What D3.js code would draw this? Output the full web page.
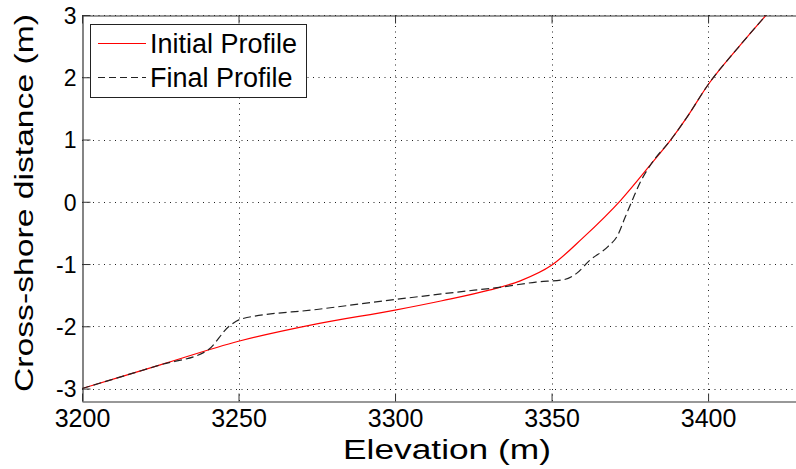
<!DOCTYPE html>
<html>
<head>
<meta charset="utf-8">
<script src="https://cdn.jsdelivr.net/npm/d3@7/dist/d3.min.js"></script>
<style>
  html, body { margin: 0; padding: 0; background: #fff; }
  svg { display: block; font-family: "Liberation Sans", Arial, sans-serif; }
</style>
</head>
<body>
<div id="chart"></div>
<script>
"use strict";

// profiles
var initialX = [3200, 3225, 3250, 3275, 3300, 3315, 3330, 3340, 3350, 3360, 3372, 3382, 3388, 3393, 3400, 3410, 3420];
var initialY = [-3.0, -2.62, -2.24, -1.96, -1.74, -1.59, -1.42, -1.27, -1.02, -0.58, 0.02, 0.62, 0.99, 1.34, 1.88, 2.5, 3.08];

var finalX = [3200, 3225, 3240, 3247, 3251, 3275, 3300, 3320, 3334, 3345, 3354, 3358, 3362, 3368, 3371, 3373.5, 3376, 3378.5, 3382, 3388, 3393, 3400, 3410, 3420];
var finalY = [-3.0, -2.62, -2.39, -2.0, -1.88, -1.73, -1.57, -1.45, -1.37, -1.29, -1.25, -1.15, -0.95, -0.72, -0.55, -0.25, 0.05, 0.33, 0.62, 0.99, 1.34, 1.88, 2.5, 3.08];

var xTicks = [3200, 3250, 3300, 3350, 3400];
var yTicks = [-3, -2, -1, 0, 1, 2, 3];

var seriesNames = ["Initial Profile", "Final Profile"];

var width = 796, height = 469;
var plotLeft = 82, plotTop = 15, plotRight = 802, plotBottom = 401;

var svg = d3.select("#chart").append("svg")
    .attr("width", width)
    .attr("height", height);

var x = d3.scaleLinear().domain([3200, 3430]).range([plotLeft, plotRight]);
var y = d3.scaleLinear().domain([-3.2, 3]).range([plotBottom, plotTop]);

svg.append("defs").append("clipPath").attr("id", "plotClip")
    .append("rect")
    .attr("x", plotLeft).attr("y", plotTop)
    .attr("width", plotRight - plotLeft).attr("height", plotBottom - plotTop);

// dotted grid
var grid = svg.append("g").attr("class", "grid");
grid.selectAll("line.vx")
    .data(xTicks.filter(function(d){ return d > 3200; }))
    .enter().append("line")
    .attr("x1", function(d){ return Math.round(x(d)) + 0.5; })
    .attr("x2", function(d){ return Math.round(x(d)) + 0.5; })
    .attr("y1", plotTop).attr("y2", plotBottom)
    .attr("stroke", "#222").attr("stroke-width", 1)
    .attr("stroke-dasharray", "1,4.5");
grid.selectAll("line.hy")
    .data(yTicks)
    .enter().append("line")
    .attr("x1", plotLeft).attr("x2", plotRight)
    .attr("y1", function(d){ return Math.round(y(d)) + 0.5; })
    .attr("y2", function(d){ return Math.round(y(d)) + 0.5; })
    .attr("stroke", "#222").attr("stroke-width", 1)
    .attr("stroke-dasharray", "1,4.5");

// the two profiles
var line = d3.line()
    .x(function(d){ return x(d[0]); })
    .y(function(d){ return y(d[1]); })
    .curve(d3.curveMonotoneX);

var plot = svg.append("g").attr("clip-path", "url(#plotClip)");

plot.append("path")
    .datum(initialX.map(function(v, i){ return [v, initialY[i]]; }))
    .attr("d", line)
    .attr("fill", "none")
    .attr("stroke", "#ff0000")
    .attr("stroke-width", 1.2);

plot.append("path")
    .datum(finalX.map(function(v, i){ return [v, finalY[i]]; }))
    .attr("d", line)
    .attr("fill", "none")
    .attr("stroke", "#222")
    .attr("stroke-width", 1.2)
    .attr("stroke-dasharray", "8,4");

// axes, MATLAB style: ticks pointing inwards, plain hyphen minus
var plainFormat = function(d){ return String(d); };

var xAxis = svg.append("g")
    .attr("transform", "translate(0," + (plotBottom + 0.5) + ")")
    .call(d3.axisBottom(x).tickValues(xTicks).tickSizeInner(-8).tickSizeOuter(0).tickPadding(8).tickFormat(plainFormat));
xAxis.selectAll("text").attr("font-size", 25).attr("fill", "#000");

var xTop = svg.append("g")
    .attr("transform", "translate(0," + (plotTop + 0.5) + ")")
    .call(d3.axisTop(x).tickValues(xTicks).tickSizeInner(-8).tickSizeOuter(0).tickFormat(""));

var yAxis = svg.append("g")
    .attr("transform", "translate(" + (plotLeft + 0.5) + ",0)")
    .call(d3.axisLeft(y).tickValues(yTicks).tickSizeInner(-8).tickSizeOuter(0).tickPadding(6).tickFormat(plainFormat));
yAxis.selectAll("text").attr("font-size", 23).attr("fill", "#000").attr("dy", "0.36em");

[xAxis, xTop, yAxis].forEach(function(a){
    a.select(".domain").attr("stroke", "#333").attr("stroke-width", 1.2);
    a.selectAll(".tick line").attr("stroke", "#333");
});

// axis titles
svg.append("text")
    .attr("x", 447).attr("y", 459)
    .attr("text-anchor", "middle")
    .attr("font-size", 27)
    .attr("textLength", 208)
    .attr("lengthAdjust", "spacingAndGlyphs")
    .text("Elevation (m)");

svg.append("text")
    .attr("transform", "translate(33,203) rotate(-90)")
    .attr("text-anchor", "middle")
    .attr("font-size", 26)
    .attr("textLength", 378)
    .attr("lengthAdjust", "spacingAndGlyphs")
    .text("Cross-shore distance (m)");

// legend
var legend = svg.append("g");
legend.append("rect")
    .attr("x", 90.5).attr("y", 24.5)
    .attr("width", 216).attr("height", 73)
    .attr("fill", "#fff").attr("stroke", "#222").attr("stroke-width", 1);

var legendStyles = [
    { stroke: "#ff0000", dash: null },
    { stroke: "#222", dash: "7,4" }
];
seriesNames.forEach(function(name, i){
    var ly = 43.5 + i * 34;
    legend.append("line")
        .attr("x1", 98).attr("x2", 146)
        .attr("y1", ly).attr("y2", ly)
        .attr("stroke", legendStyles[i].stroke)
        .attr("stroke-width", 1.2)
        .attr("stroke-dasharray", legendStyles[i].dash);
    legend.append("text")
        .attr("x", 150).attr("y", ly + 9)
        .attr("font-size", 27)
        .attr("fill", "#000")
        .text(name);
});
</script>
</body>
</html>
